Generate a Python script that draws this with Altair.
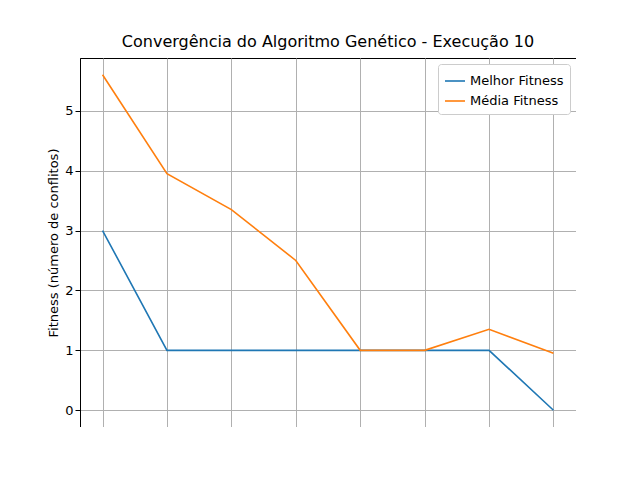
import altair as alt
import pandas as pd

geracoes = [0, 1, 2, 3, 4, 5, 6, 7]
melhor = [3, 1, 1, 1, 1, 1, 1, 0]
media = [5.6, 3.95, 3.35, 2.5, 1.0, 1.0, 1.35, 0.95]

df = pd.concat([
    pd.DataFrame({"g": geracoes, "v": melhor, "s": "Melhor Fitness"}),
    pd.DataFrame({"g": geracoes, "v": media, "s": "Média Fitness"}),
])

font = "DejaVu Sans"
axis_style = dict(grid=True, gridColor="#b0b0b0", tickColor="black", domainColor="black",
                  labelColor="black", labelFontSize=13, titleFontSize=13, titleFontWeight="normal",
                  titleColor="black")
chart = alt.Chart(df).mark_line(strokeWidth=1.6, clip=True).encode(
    x=alt.X("g:Q", title="Gerações", scale=alt.Scale(domain=[-0.35, 7.35], nice=False, zero=False),
            axis=alt.Axis(values=geracoes, format="d", **axis_style)),
    y=alt.Y("v:Q", title="Fitness (número de conflitos)",
            scale=alt.Scale(domain=[-0.28, 5.88], nice=False, zero=False),
            axis=alt.Axis(values=[0, 1, 2, 3, 4, 5], **axis_style)),
    color=alt.Color("s:N", title=None,
                    scale=alt.Scale(domain=["Melhor Fitness", "Média Fitness"], range=["#1f77b4", "#ff7f0e"]),
                    legend=alt.Legend(orient="top-right", symbolType="stroke", symbolStrokeWidth=1.6,
                                      symbolSize=400, labelFontSize=13, labelFont=font,
                                      fillColor="white", strokeColor="#cccccc", padding=6,
                                      cornerRadius=3, offset=6)),
).properties(
    width=496, height=369,
    autosize=alt.AutoSizeParams(type="none"),
    padding={"left": 72, "top": 50, "right": 0, "bottom": 0},
    title=alt.TitleParams("Convergência do Algoritmo Genético - Execução 10", fontSize=16,
                          fontWeight="normal", font=font, offset=8, color="black"),
).configure_view(stroke="black").configure_axis(labelFont=font, titleFont=font)

chart.save("out.html", embed_options={"renderer": "svg", "actions": False})
